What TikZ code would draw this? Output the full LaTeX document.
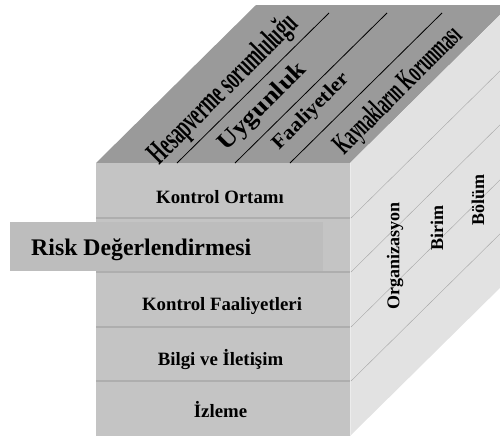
\documentclass[tikz,border=0pt]{standalone}
\usepackage{fontspec}
\setmainfont{Liberation Serif}
\usepackage{graphicx}
\definecolor{frontc}{HTML}{C4C4C4}
\definecolor{topc}{HTML}{9A9A9A}
\definecolor{sidec}{HTML}{E2E2E2}
\definecolor{riskc}{HTML}{BDBDBD}
\definecolor{divc}{HTML}{AEAEAE}
\tikzset{
  rowlabel/.style={anchor=base, font=\bfseries\fontsize{18.8}{19}\selectfont, inner sep=0pt},
  sidelabel/.style={rotate=90, font=\bfseries\fontsize{18}{18}\selectfont, inner sep=0pt},
  toplabel/.style={rotate=45, inner sep=0pt, font=\bfseries},
  topline/.style={black, line width=0.8pt},
  sideline/.style={gray!70, line width=0.4pt},
  divline/.style={divc, line width=1.5pt}
}
\begin{document}
\begin{tikzpicture}[x=1pt,y=-1pt]
\useasboundingbox (0,0) rectangle (500,437);
\begin{scope}
\clip (0,0) rectangle (500,437);
\coordinate (FL) at (96,163);
\coordinate (FR) at (350,163);
\coordinate (BL) at (256,5);
\coordinate (BR) at (510,5);
\coordinate (RB) at (510,278);
\coordinate (FBL) at (96,436);
\coordinate (FBR) at (350,436);
% faces
\fill[topc] (FL) -- (BL) -- (BR) -- (FR) -- cycle;
\fill[sidec] (FR) -- (BR) -- (RB) -- (FBR) -- cycle;
\fill[frontc] (FL) rectangle (FBR);
\draw[white!85!gray, line width=1.2pt] (350.5,163) -- (350.5,436);
% row dividers and side lines
\foreach \y in {218,272,327,381} {
  \draw[divline] (96,\y) -- (350,\y);
  \draw[sideline] (351,\y) -- ++(160,-158);
}
% top face lines
\foreach \x in {177,235,290} {
  \draw[topline] (\x,163) -- ++(152,-150);
}
% risk box
\fill[riskc] (10,222) rectangle (323,271);
\end{scope}
% front labels
\node[rowlabel] (ko) at (220,203) {Kontrol Ortamı};
\node[rowlabel, anchor=base west, font=\bfseries\fontsize{23.8}{24}\selectfont] (rd) at (31,255) {Risk Değerlendirmesi};
\node[rowlabel] (kf) at (222,310) {Kontrol Faaliyetleri};
\node[rowlabel] (bi) at (220.5,365) {Bilgi ve İletişim};
\node[rowlabel] (iz) at (220.5,417) {İzleme};
% side labels
\node[sidelabel] (org) at (395,256) {Organizasyon};
\node[sidelabel] (bir) at (437,228) {Birim};
\node[sidelabel] (bol) at (478,200) {Bölüm};
% top labels
\node[toplabel] (hs) at (224,90) {\fontsize{32}{32}\selectfont\scalebox{0.56}[1]{Hesapverme sorumluluğu}};
\node[toplabel] (uy) at (263,107) {\fontsize{24}{24}\selectfont\scalebox{1.13}[1]{Uygunluk}};
\node[toplabel] (fa) at (311,112) {\fontsize{20}{20}\selectfont\scalebox{1.08}[1]{Faaliyetler}};
\node[toplabel] (kk) at (399,91) {\fontsize{30}{30}\selectfont\scalebox{0.53}[1]{Kaynakların Korunması}};
\end{tikzpicture}
\end{document}
